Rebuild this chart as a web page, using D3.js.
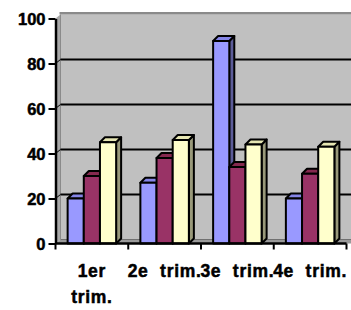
<!DOCTYPE html>
<html>
<head>
<meta charset="utf-8">
<script src="https://cdn.jsdelivr.net/npm/d3@7"></script>
<style>
  html, body { margin: 0; padding: 0; background: #ffffff; }
  svg { display: block; }
  text { font-family: "Liberation Sans", Arial, sans-serif; font-weight: bold; fill: #000; }
</style>
</head>
<body>
<div id="chart"></div>
<script>
// ---- data ----
const categories = ["1er trim.", "2e trim.", "3e trim.", "4e trim."];
const seriesNames = ["Série 1", "Série 2", "Série 3"];
const series1 = [20, 27, 90, 20];
const series2 = [30, 38, 34, 31];
const series3 = [45, 46, 44, 43];
const yTicks = [0, 20, 40, 60, 80, 100];

// ---- layout ----
const W = 351, H = 310;
const x0 = 55.5, x1 = 346.5;
const dx = 5, dy = -4;         // depth offset of 3D walls
const bdx = 5, bdy = -5;       // depth offset of bar tops/sides
const faceColors = [
  { front: "#9999FF", top: "#8585E6", side: "#5C5C99" },
  { front: "#993366", top: "#85294F", side: "#5C1F3D" },
  { front: "#FFFFCC", top: "#E6E6B3", side: "#99997A" }
];
const seriesData = [series1, series2, series3];

const svg = d3.select("#chart").append("svg").attr("width", W).attr("height", H);

const x = d3.scaleBand().domain(categories).range([x0, x1]).paddingInner(0).paddingOuter(0);
const xs = d3.scaleBand().domain(seriesNames).range([0, x.bandwidth()]).paddingInner(0).paddingOuter(0.75);
const y = d3.scaleLinear().domain([0, 100]).range([243.5, 18.5]);

const y0 = y(0), yTop = y(100);

// back wall
svg.append("rect")
  .attr("x", x0 + dx).attr("y", yTop + dy)
  .attr("width", W - (x0 + dx) + 2).attr("height", y0 - yTop)
  .attr("fill", "#C0C0C0");
// wall top edge
svg.append("rect")
  .attr("x", x0 + dx - 1).attr("y", yTop + dy - 2.5)
  .attr("width", W).attr("height", 2.5)
  .attr("fill", "#8A8A8A");
// left side wall
svg.append("polygon")
  .attr("points", [[x0, yTop], [x0 + dx, yTop + dy], [x0 + dx, y0 + dy], [x0, y0]].join(" "))
  .attr("fill", "#A8A8A8");
svg.append("line")
  .attr("x1", x0 + dx).attr("x2", x0 + dx).attr("y1", yTop + dy).attr("y2", y0 + dy)
  .attr("stroke", "#8A8A8A").attr("stroke-width", 1);
// floor
svg.append("polygon")
  .attr("points", [[x0, y0], [x0 + dx, y0 + dy], [W + 2, y0 + dy], [W + 2, y0]].join(" "))
  .attr("fill", "#9A9A9A");
svg.append("line")
  .attr("x1", x0 + dx).attr("x2", W).attr("y1", y0 + dy).attr("y2", y0 + dy)
  .attr("stroke", "#707070").attr("stroke-width", 1);

// gridlines on back wall and side wall
const grid = svg.append("g");
yTicks.filter(v => v > 0 && v < 100).forEach(v => {
  grid.append("line")
    .attr("x1", x0 + dx).attr("x2", W)
    .attr("y1", y(v) + dy).attr("y2", y(v) + dy)
    .attr("stroke", "#000").attr("stroke-width", 2);
  grid.append("line")
    .attr("x1", x0).attr("x2", x0 + dx)
    .attr("y1", y(v)).attr("y2", y(v) + dy)
    .attr("stroke", "#000").attr("stroke-width", 1);
});

// bars
const bars = svg.append("g").attr("stroke", "#000").attr("stroke-width", 2).attr("stroke-linejoin", "round");
categories.forEach((c, ci) => {
  seriesNames.forEach((s, si) => {
    const v = seriesData[si][ci];
    const bx = x(c) + xs(s);
    const bw = xs.bandwidth();
    const yv = y(v);
    const col = faceColors[si];
    // side face
    bars.append("polygon")
      .attr("points", [[bx + bw, yv], [bx + bw + bdx, yv + bdy], [bx + bw + bdx, y0 + bdy], [bx + bw, y0]].join(" "))
      .attr("fill", col.side);
    // top face
    bars.append("polygon")
      .attr("points", [[bx, yv], [bx + bdx, yv + bdy], [bx + bw + bdx, yv + bdy], [bx + bw, yv]].join(" "))
      .attr("fill", col.top);
    // front face
    bars.append("rect")
      .attr("x", bx).attr("y", yv).attr("width", bw).attr("height", y0 - yv)
      .attr("fill", col.front);
  });
});

// y axis
const yAxis = d3.axisLeft(y).tickValues(yTicks).tickSize(7).tickSizeOuter(0).tickPadding(3);
const gy = svg.append("g").attr("transform", `translate(${x0},0)`).call(yAxis);
gy.select(".domain").attr("stroke", "#000").attr("stroke-width", 2.5);
gy.selectAll(".tick line").attr("stroke", "#000").attr("stroke-width", 2);
gy.selectAll(".tick text")
  .attr("font-size", 16.5).attr("font-family", "Liberation Sans, Arial, sans-serif")
  .attr("font-weight", "bold").attr("fill", "#000").attr("dy", "0.36em")
  .attr("stroke", "#000").attr("stroke-width", 0.5);

// x axis line + boundary ticks
const gx = svg.append("g");
gx.append("line").attr("x1", x0).attr("x2", x1).attr("y1", y0).attr("y2", y0)
  .attr("stroke", "#000").attr("stroke-width", 2.5);
const bounds = categories.map(c => x(c)).concat([x1]);
gx.selectAll("line.tk").data(bounds).join("line").attr("class", "tk")
  .attr("x1", d => d).attr("x2", d => d).attr("y1", y0).attr("y2", y0 + 6)
  .attr("stroke", "#000").attr("stroke-width", 2);

// x labels (wrapped when too wide)
const lab = svg.append("g");
categories.forEach(c => {
  const cx = x(c) + x.bandwidth() / 2;
  const t = lab.append("text")
    .attr("x", cx).attr("y", 277)
    .attr("text-anchor", "middle")
    .attr("font-size", 17.5)
    .attr("stroke", "#000").attr("stroke-width", 0.5)
    .style("letter-spacing", "0.7px")
    .style("word-spacing", "6px")
    .text(c);
  if (t.node().getComputedTextLength() > 80) {
    const words = c.split(" ");
    t.text(null);
    words.forEach((w, i) => {
      t.append("tspan").attr("x", cx).attr("y", 277 + i * 26).text(w);
    });
  }
});
</script>
</body>
</html>
